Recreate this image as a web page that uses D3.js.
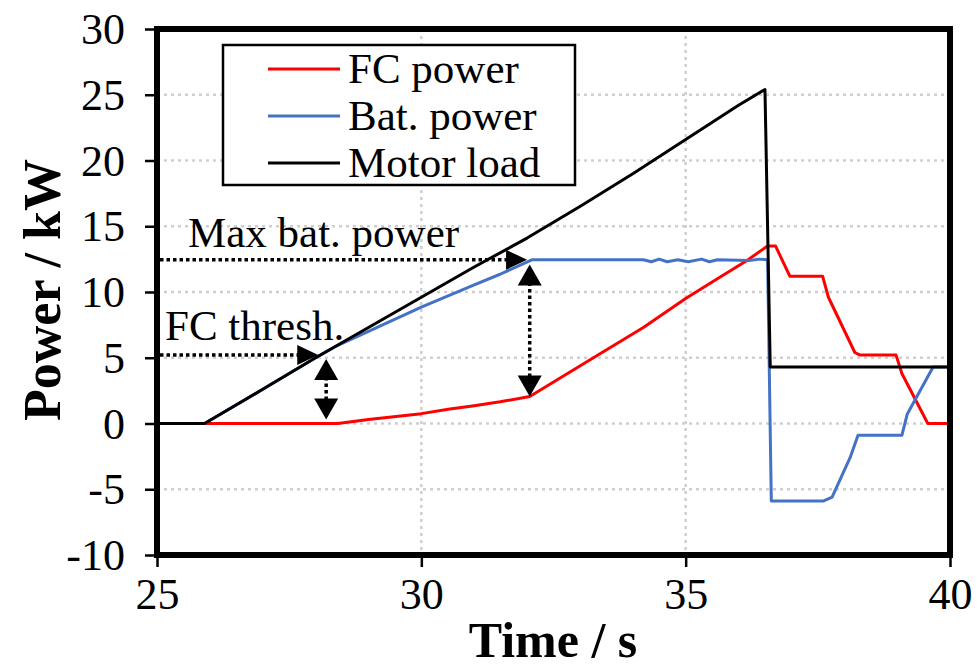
<!DOCTYPE html>
<html>
<head>
<meta charset="utf-8">
<script src="https://d3js.org/d3.v7.min.js"></script>
<style>
  body { margin: 0; background: #fff; }
  text { font-family: "Liberation Serif", "Times New Roman", serif; fill: #000; }
</style>
</head>
<body>
<div id="dataviz-container"></div>
<script>
// data
var timeMotor = [25, 25.9, 27, 28, 29, 30, 31, 32, 33, 34, 35, 36, 36.5, 36.6, 40];
var motorLoad = [0, 0, 2.6, 5.0, 7.3, 9.6, 11.9, 14.1, 16.5, 19.0, 21.6, 24.2, 25.4, 4.3, 4.3];

var timeFC = [25, 28.42, 29, 30, 30.54, 31, 31.49, 32.05, 33.38, 34.2, 35, 35.6, 36.16, 36.55, 36.7, 36.97, 37.59, 37.7, 38.2, 38.3, 38.98, 39.09, 39.58, 40];
var fcPower = [0, 0, 0.3, 0.75, 1.1, 1.35, 1.65, 2.05, 5.3, 7.3, 9.5, 11.0, 12.4, 13.5, 13.5, 11.2, 11.2, 9.6, 5.4, 5.2, 5.2, 3.8, 0, 0];

var timeBat = [25, 25.9, 27, 28, 28.42, 29, 30, 31, 31.49, 32.09, 34.2, 34.35, 34.5, 34.65, 34.85, 35.05, 35.3, 35.45, 35.6, 36.2, 36.4, 36.55, 36.62, 37.6, 37.77, 38.11, 38.26, 39.09, 39.19, 39.68, 40];
var batPower = [0, 0, 2.6, 5.0, 5.95, 7.0, 8.85, 10.55, 11.35, 12.45, 12.45, 12.3, 12.5, 12.3, 12.45, 12.3, 12.5, 12.3, 12.45, 12.4, 12.5, 12.45, -5.9, -5.9, -5.6, -2.6, -0.9, -0.9, 0.7, 4.3, 4.3];

var xTicks = [25, 30, 35, 40];
var yTicks = [-10, -5, 0, 5, 10, 15, 20, 25, 30];
var xGrid = [30, 35];
var yGrid = [-5, 0, 5, 10, 15, 20, 25];

var seriesNames = ['FC power', 'Bat. power', 'Motor load'];
var seriesColors = ['#ff0000', '#4472c4', '#000000'];

// annotation positions (time, power)
var maxBat = { label: 'Max bat. power', level: 12.45, tip: 32.0 };
var fcThresh = { label: 'FC thresh.', level: 5.2, tip: 28.05 };
var gapArrows = [
  { t: 28.2, top: 4.9, bottom: 0.3 },
  { t: 32.05, top: 12.1, bottom: 2.05 }
];

var width = 977, height = 671;
var x = d3.scaleLinear().domain([25, 40]).range([157, 950]);
var y = d3.scaleLinear().domain([-10, 30]).range([555, 29]);

var svg = d3.select('#dataviz-container')
  .append('svg')
  .attr('width', width).attr('height', height);

// grid
svg.append('g').selectAll('line').data(yGrid).enter().append('line')
  .attr('x1', x(25)).attr('x2', x(40))
  .attr('y1', function(d) { return y(d); }).attr('y2', function(d) { return y(d); })
  .attr('stroke', '#cfcfcf').attr('stroke-width', 2.5).attr('stroke-dasharray', '3,4');
svg.append('g').selectAll('line').data(xGrid).enter().append('line')
  .attr('y1', y(30)).attr('y2', y(-10))
  .attr('x1', function(d) { return x(d); }).attr('x2', function(d) { return x(d); })
  .attr('stroke', '#cfcfcf').attr('stroke-width', 2.5).attr('stroke-dasharray', '3,4');

// series
function zip(ts, vs) { return ts.map(function(t, i) { return [t, vs[i]]; }); }
var line = d3.line().x(function(d) { return x(d[0]); }).y(function(d) { return y(d[1]); });
var series = [zip(timeFC, fcPower), zip(timeBat, batPower), zip(timeMotor, motorLoad)];
svg.append('g').selectAll('path').data(series).enter().append('path')
  .attr('d', line)
  .attr('fill', 'none')
  .attr('stroke', function(d, i) { return seriesColors[i]; })
  .attr('stroke-width', 3)
  .attr('stroke-linejoin', 'round');

// axes (plain hyphen for negatives, like the original)
var fmt = function(d) { return String(d); };
var xAxis = d3.axisBottom(x).tickValues(xTicks).tickSize(12).tickFormat(fmt);
var yAxis = d3.axisLeft(y).tickValues(yTicks).tickSize(12).tickFormat(fmt);
var gx = svg.append('g').attr('transform', 'translate(0,' + y(-10) + ')').call(xAxis);
var gy = svg.append('g').attr('transform', 'translate(' + x(25) + ',0)').call(yAxis);
[gx, gy].forEach(function(g) {
  g.select('.domain').remove();
  g.selectAll('.tick line').attr('stroke', '#000').attr('stroke-width', 2.5);
  g.selectAll('.tick text').attr('font-size', 44).attr('font-family', '"Liberation Serif", serif').attr('fill', '#000');
});
gx.selectAll('.tick text').attr('y', 54).attr('dy', 0);
gy.selectAll('.tick text').attr('x', -32).attr('dy', '0.33em');

// frame
svg.append('rect')
  .attr('x', x(25)).attr('y', y(30))
  .attr('width', x(40) - x(25)).attr('height', y(-10) - y(30))
  .attr('fill', 'none').attr('stroke', '#000').attr('stroke-width', 6);

// axis titles
svg.append('text')
  .attr('x', 553).attr('y', 657)
  .attr('text-anchor', 'middle').attr('font-size', 50).attr('font-weight', 'bold')
  .text('Time / s');
svg.append('text')
  .attr('transform', 'translate(60,290) rotate(-90)')
  .attr('text-anchor', 'middle').attr('font-size', 52).attr('font-weight', 'bold')
  .text('Power / kW');

// dotted arrows
function head(px, py, dir, len, half) {
  var p;
  if (dir === 'right') p = [[px, py], [px - len, py - half], [px - len, py + half]];
  if (dir === 'up') p = [[px, py], [px - half, py + len], [px + half, py + len]];
  if (dir === 'down') p = [[px, py], [px - half, py - len], [px + half, py - len]];
  svg.append('path').attr('d', 'M' + p.join('L') + 'Z').attr('fill', '#000');
}
function dotted(x1, y1, x2, y2) {
  svg.append('line').attr('x1', x1).attr('y1', y1).attr('x2', x2).attr('y2', y2)
    .attr('stroke', '#000').attr('stroke-width', 3.5).attr('stroke-dasharray', '3.5,3');
}
[maxBat, fcThresh].forEach(function(a) {
  dotted(x(25) + 3, y(a.level), x(a.tip) - 18, y(a.level));
  head(x(a.tip), y(a.level), 'right', 21, 10);
});
gapArrows.forEach(function(a) {
  dotted(x(a.t), y(a.top) + 18, x(a.t), y(a.bottom) - 18);
  head(x(a.t), y(a.top), 'up', 21, 12);
  head(x(a.t), y(a.bottom), 'down', 21, 12);
});

svg.append('text').attr('x', 188).attr('y', 247).attr('font-size', 43).text(maxBat.label);
svg.append('text').attr('x', 165).attr('y', 340).attr('font-size', 43).text(fcThresh.label);

// legend
var legend = svg.append('g');
legend.append('rect')
  .attr('x', 223).attr('y', 45).attr('width', 352).attr('height', 140)
  .attr('fill', '#fff').attr('stroke', '#000').attr('stroke-width', 2.5);
var rows = legend.selectAll('g.row').data(seriesNames).enter().append('g')
  .attr('transform', function(d, i) { return 'translate(0,' + (69 + i * 47) + ')'; });
rows.append('line').attr('x1', 268).attr('x2', 340).attr('y1', 0).attr('y2', 0)
  .attr('stroke', function(d, i) { return seriesColors[i]; }).attr('stroke-width', 3);
rows.append('text').attr('x', 348).attr('y', 14).attr('font-size', 43)
  .text(function(d) { return d; });
</script>
</body>
</html>
